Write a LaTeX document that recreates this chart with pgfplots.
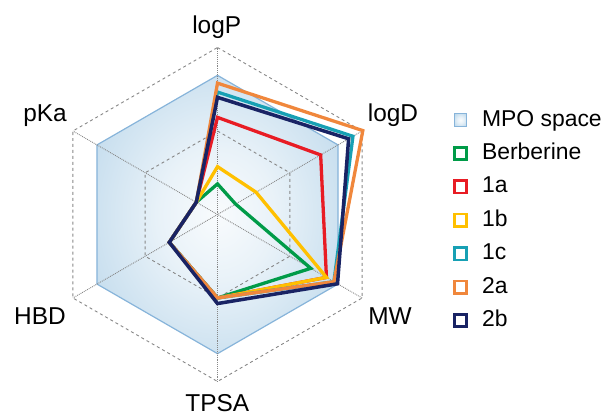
\documentclass[border=0pt]{standalone}
\usepackage{pgfplots}
\pgfplotsset{compat=1.18}
\usepackage{fontspec}
\setmainfont{Liberation Sans}
\definecolor{mpoedge}{RGB}{135,180,218}
\definecolor{mpofill}{RGB}{175,208,231}
\definecolor{mpoleg}{RGB}{205,225,240}
\definecolor{gridc}{RGB}{135,135,135}
\definecolor{cberb}{RGB}{0,155,72}
\definecolor{conea}{RGB}{232,28,36}
\definecolor{coneb}{RGB}{255,192,0}
\definecolor{conec}{RGB}{23,160,180}
\definecolor{ctwoa}{RGB}{240,135,60}
\definecolor{ctwob}{RGB}{25,35,100}
\pgfdeclareradialshading{mposhade}{\pgfpoint{0bp}{0bp}}{color(0bp)=(white!92!mpofill); color(12bp)=(white!72!mpofill); color(40bp)=(mpofill); color(50bp)=(mpofill)}
\begin{document}
\begin{tikzpicture}
\path[use as bounding box] (0,0) rectangle (605bp,416bp);
\begin{axis}[
  at={(217.5bp,201.5bp)}, anchor=origin,
  x=27.83bp, y=27.83bp,
  xmin=-6.5, xmax=6.5, ymin=-6.5, ymax=6.5,
  hide axis, clip=false, scale only axis,
  legend image code/.code={\draw[#1, line width=2.6bp, fill=white, line join=miter] (0bp,-6.2bp) rectangle (12.4bp,6.2bp);},
  legend cell align=left,
  legend style={at={(axis description cs:1.151,0.7916)}, anchor=north west,
    draw=none, fill=none, inner sep=0pt, outer sep=0pt,
    font=\fontsize{23}{27}\selectfont, row sep=11.4bp,
    nodes={inner sep=0pt, text height=17bp, text depth=5bp},
    /tikz/every odd column/.append style={column sep=14bp}},
]
% MPO space
\addplot[draw=mpoedge, line width=1.2bp, shade, shading=mposhade, data cs=polar,
  legend image code/.code={\draw[draw=mpoedge, fill=mpoleg, line width=1.2bp] (0bp,-6.2bp) rectangle (12.4bp,6.2bp);}]
  coordinates {(90,5) (30,5) (-30,5) (-90,5) (210,5) (150,5)} -- cycle;
\addlegendentry{MPO space}
% grid
\addplot[forget plot, gridc, dashed, line width=0.9bp, data cs=polar]
  coordinates {(90,6) (30,6) (-30,6) (-90,6) (210,6) (150,6)} -- cycle;
\addplot[forget plot, gridc, dashed, line width=0.9bp, data cs=polar]
  coordinates {(90,3) (30,3) (-30,3) (-90,3) (210,3) (150,3)} -- cycle;
\addplot[forget plot, gridc, densely dotted, line width=0.9bp, data cs=polar]
  coordinates {(90,6) (270,6)};
\addplot[forget plot, gridc, densely dotted, line width=0.9bp, data cs=polar]
  coordinates {(30,6) (210,6)};
\addplot[forget plot, gridc, densely dotted, line width=0.9bp, data cs=polar]
  coordinates {(-30,6) (150,6)};
% series
\addplot[cberb, line width=3.3bp, line join=miter, data cs=polar]
  coordinates {(90,1.10) (30,0.75) (-30,3.87) (-90,3.0) (210,2.0) (150,0.88)} -- cycle;
\addlegendentry{Berberine}
\addplot[conea, line width=3.3bp, line join=miter, data cs=polar]
  coordinates {(90,3.49) (30,4.28) (-30,4.52) (-90,3.0) (210,2.0) (150,0.88)} -- cycle;
\addlegendentry{1a}
\addplot[coneb, line width=3.3bp, line join=miter, data cs=polar]
  coordinates {(90,1.72) (30,1.60) (-30,4.52) (-90,3.0) (210,2.0) (150,0.88)} -- cycle;
\addlegendentry{1b}
\addplot[conec, line width=3.3bp, line join=miter, data cs=polar]
  coordinates {(90,4.40) (30,5.62) (-30,4.83) (-90,3.0) (210,2.0) (150,0.88)} -- cycle;
\addlegendentry{1c}
\addplot[ctwoa, line width=3.3bp, line join=miter, data cs=polar]
  coordinates {(90,4.72) (30,6.03) (-30,4.83) (-90,3.0) (210,2.0) (150,0.88)} -- cycle;
\addlegendentry{2a}
\addplot[ctwob, line width=3.5bp, line join=miter, data cs=polar]
  coordinates {(90,4.21) (30,5.44) (-30,4.98) (-90,3.2) (210,2.0) (150,0.88)} -- cycle;
\addlegendentry{2b}
\end{axis}
\begin{scope}[every node/.style={font=\fontsize{24.5}{29}\selectfont, inner sep=0pt, anchor=base}]
\node at (216.7bp,382.7bp) {logP};
\node at (393bp,294.3bp) {logD};
\node at (390bp,91bp) {MW};
\node at (217.3bp,4.3bp) {TPSA};
\node at (40bp,91bp) {HBD};
\node at (45bp,294.3bp) {pKa};
\end{scope}
\end{tikzpicture}
\end{document}
